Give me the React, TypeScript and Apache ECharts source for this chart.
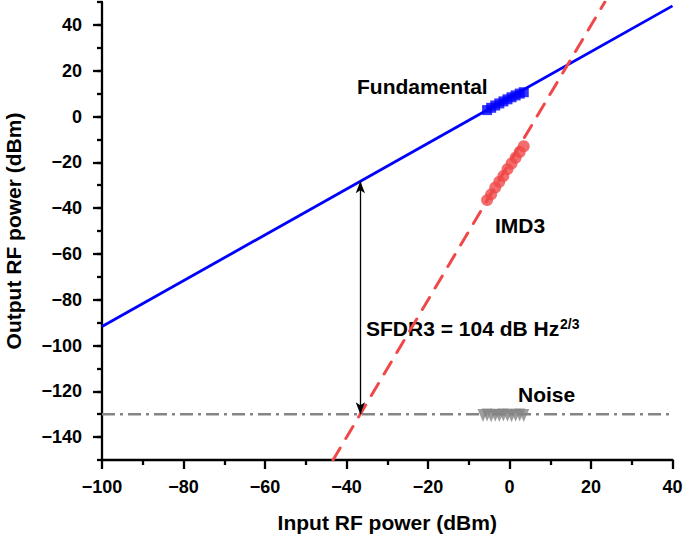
import React, { useEffect, useRef } from "react";
import * as echarts from "echarts";

// Measured points (input power in dBm)
const measX = [-5.5, -4.5, -3.5, -2.5, -1.5, -0.5, 0.5, 1.5, 2.5, 3.5];
const fundVals = [2.8, 3.8, 4.8, 5.7, 6.6, 7.5, 8.4, 9.2, 10.0, 10.6];
const imdVals = [-36.5, -34.0, -31.0, -28.5, -26.0, -23.0, -20.5, -18.0, -15.5, -13.0];
const noiseX = [-6.5, -5.5, -4.5, -3.5, -2.5, -1.5, -0.5, 0.5, 1.5, 2.5, 3.5];
const noiseVals = [-130.6, -130.4, -130.7, -130.5, -130.6, -130.4, -130.5, -130.7, -130.5, -130.4, -130.6];

// Fitted lines (endpoints)
const fundFitX = [-100, 40];
const fundFitY = [-91.7, 48.3];
const imdFitX = [-43.3, 23.4];
const imdFitY = [-150, 50];
const noiseFitX = [-100, 40];
const noiseFloor = -130;

// SFDR arrow
const sfdrX = -36.6;
const sfdrTop = -28.3;

// Axis ticks
const yMajor = [-140, -120, -100, -80, -60, -40, -20, 0, 20, 40];

const BLUE = "#0000ff";
const RED = "#f04848";
const GRAY = "#858585";
const FONT = "Liberation Sans, Arial, Helvetica, sans-serif";

const zip = (xs: number[], ys: number[]) => xs.map((x, i) => [x, ys[i]]);
const fmt = (v: number) => (v < 0 ? "\u2212" + Math.abs(v) : String(v));

export default function App() {
  const ref = useRef<HTMLDivElement>(null);
  useEffect(() => {
    if (!ref.current) return;
    const chart = echarts.init(ref.current, null, { renderer: "svg" });
    const labelStyle = { color: "#000", fontSize: 18, fontWeight: "bold" as const, fontFamily: FONT };
    const textBase = { fill: "#000", fontSize: 21, fontWeight: "bold", fontFamily: FONT, verticalAlign: "middle", align: "left" };
    chart.setOption({
      animation: false,
      backgroundColor: "#fff",
      grid: { left: 102, right: 12.5, top: 2, bottom: 76, containLabel: false, outerBoundsMode: "none" },
      xAxis: {
        type: "value",
        min: -100,
        max: 40,
        interval: 20,
        name: "Input RF power (dBm)",
        nameLocation: "middle",
        nameGap: 52,
        nameTextStyle: { color: "#000", fontSize: 21, fontWeight: "bold", fontFamily: FONT },
        axisLine: { show: true, onZero: false, lineStyle: { color: "#000", width: 2.3 } },
        axisTick: { show: true, inside: false, length: 9, lineStyle: { color: "#000", width: 2.3 } },
        minorTick: { show: true, splitNumber: 2, length: 5, lineStyle: { color: "#000", width: 2.3 } },
        axisLabel: { ...labelStyle, margin: 18, formatter: fmt },
        splitLine: { show: false },
        minorSplitLine: { show: false },
      },
      yAxis: [
        {
          type: "value",
          min: -150,
          max: 50,
          position: "left",
          name: "Output RF power (dBm)",
          nameLocation: "middle",
          nameGap: 78,
          nameTextStyle: { color: "#000", fontSize: 21, fontWeight: "bold", fontFamily: FONT },
          axisLine: { show: true, onZero: false, lineStyle: { color: "#000", width: 2.3 } },
          axisTick: { show: true, inside: false, length: 9, customValues: yMajor, lineStyle: { color: "#000", width: 2.3 } },
          axisLabel: { ...labelStyle, margin: 20, customValues: yMajor, formatter: fmt },
          splitLine: { show: false },
        },
        {
          type: "value",
          min: -150,
          max: 50,
          interval: 10,
          position: "left",
          offset: 0,
          axisLine: { show: false, onZero: false },
          axisTick: { show: true, inside: false, length: 5, lineStyle: { color: "#000", width: 2.3 } },
          axisLabel: { show: false },
          splitLine: { show: false },
        },
      ],
      series: [
        {
          type: "line",
          data: zip(noiseFitX, [noiseFloor, noiseFloor]),
          showSymbol: false,
          symbol: "none",
          lineStyle: { color: GRAY, width: 2.6, type: [13, 5, 3, 5] },
          z: 2,
          markLine: {
            silent: true,
            symbol: ["arrow", "arrow"],
            symbolSize: [7, 12],
            label: { show: false },
            lineStyle: { color: "#000", width: 1.3, type: "solid" },
            data: [[{ coord: [sfdrX, sfdrTop] }, { coord: [sfdrX, noiseFloor] }]],
          },
        },
        {
          type: "line",
          data: zip(fundFitX, fundFitY),
          showSymbol: false,
          symbol: "none",
          lineStyle: { color: BLUE, width: 2.8 },
          z: 3,
        },
        {
          type: "line",
          data: zip(imdFitX, imdFitY),
          showSymbol: false,
          symbol: "none",
          clip: true,
          lineStyle: { color: RED, width: 3, type: [14, 11], cap: "round" },
          z: 3,
        },
        {
          type: "scatter",
          data: zip(measX, fundVals),
          symbol: "rect",
          symbolSize: 10,
          itemStyle: { color: BLUE },
          z: 4,
        },
        {
          type: "scatter",
          data: zip(measX, imdVals),
          symbol: "circle",
          symbolSize: 12,
          itemStyle: { color: RED },
          z: 4,
        },
        {
          type: "scatter",
          data: zip(noiseX, noiseVals),
          symbol: "triangle",
          symbolRotate: 180,
          symbolSize: [11, 13],
          itemStyle: { color: GRAY },
          z: 4,
        },
      ],
      graphic: [
        { type: "text", x: 357, y: 86, style: { ...textBase, text: "Fundamental" } },
        { type: "text", x: 495, y: 225.5, style: { ...textBase, text: "IMD3" } },
        { type: "text", x: 518, y: 394.5, style: { ...textBase, text: "Noise" } },
        { type: "text", x: 366, y: 328, style: { ...textBase, text: "SFDR3 = 104 dB Hz" } },
        { type: "text", x: 560, y: 323.5, style: { ...textBase, fontSize: 14, text: "2/3" } },
      ],
    });
    return () => chart.dispose();
  }, []);
  return <div ref={ref} style={{ width: 685, height: 536, position: "absolute", left: 0, top: 0 }} />;
}
